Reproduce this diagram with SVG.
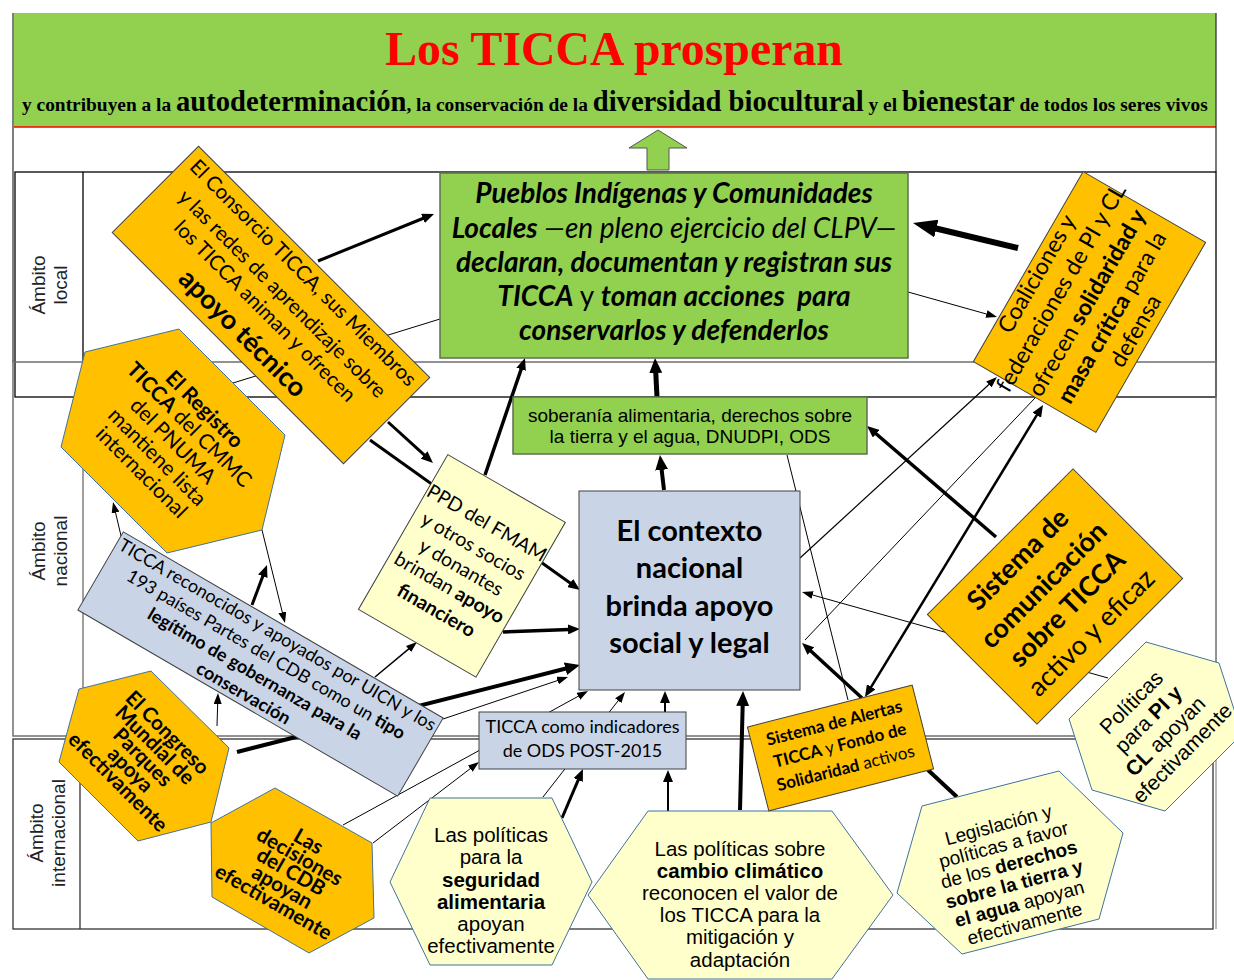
<svg xmlns="http://www.w3.org/2000/svg" width="1234" height="980" viewBox="0 0 1234 980">
<style>
.lato{font-family:Lato,"Open Sans",sans-serif}
.ar{font-family:"Liberation Sans",Arial,sans-serif}
.sf{font-family:"Liberation Serif","Times New Roman",serif}
.b{font-weight:bold}
.org{fill:#FFC000;stroke:#404040;stroke-width:1}
.orgh{fill:#FFC000;stroke:#41719C;stroke-width:1}
.yel{fill:#FFFFCC;stroke:#41719C;stroke-width:1}
.grn{fill:#92D050;stroke:#5f6f52;stroke-width:1.5}
.blu{fill:#C9D5E6;stroke:#404040;stroke-width:1}
</style>
<defs>
<marker id="as" viewBox="0 0 10 10" refX="1" refY="5" markerWidth="11" markerHeight="8" markerUnits="userSpaceOnUse" orient="auto" preserveAspectRatio="none"><path d="M0,0 L10,5 L0,10 z" fill="#000"/></marker>
<marker id="am" viewBox="0 0 10 10" refX="1" refY="5" markerWidth="12" markerHeight="10" markerUnits="userSpaceOnUse" orient="auto" preserveAspectRatio="none"><path d="M0,0 L10,5 L0,10 z" fill="#000"/></marker>
<marker id="am2" viewBox="0 0 10 10" refX="1" refY="5" markerWidth="12" markerHeight="10" markerUnits="userSpaceOnUse" orient="auto-start-reverse" preserveAspectRatio="none"><path d="M0,0 L10,5 L0,10 z" fill="#000"/></marker>
<marker id="al" viewBox="0 0 10 10" refX="1" refY="5" markerWidth="15" markerHeight="13" markerUnits="userSpaceOnUse" orient="auto" preserveAspectRatio="none"><path d="M0,0 L10,5 L0,10 z" fill="#000"/></marker>
<marker id="axl" viewBox="0 0 10 10" refX="1" refY="5" markerWidth="24" markerHeight="18" markerUnits="userSpaceOnUse" orient="auto" preserveAspectRatio="none"><path d="M0,0 L10,5 L0,10 z" fill="#000"/></marker>
</defs>
<rect width="1234" height="980" fill="#fff"/>

<g id="header">
<rect x="13" y="13" width="1203" height="114" fill="#92D050"/>
<line x1="13" y1="127" x2="1216" y2="127" stroke="#FF0000" stroke-width="1.5"/>
<text class="sf b" x="614" y="65" text-anchor="middle" font-size="47.8" fill="#FF0000">Los TICCA prosperan</text>
<text class="sf b" x="22" y="111" font-size="19.4" fill="#000">y contribuyen a la <tspan font-size="28.6">autodeterminación</tspan>, la conservación de la <tspan font-size="28.6">diversidad biocultural</tspan> y el <tspan font-size="28.6">bienestar</tspan> de todos los seres vivos</text>
</g>

<g id="frames" fill="none">
<line x1="13" y1="13" x2="13" y2="362" stroke="#7f7f7f" stroke-width="2"/>
<line x1="1216" y1="13" x2="1216" y2="172" stroke="#333" stroke-width="1.3"/>
<rect x="15" y="172" width="1201" height="225" stroke="#000" stroke-width="1.3"/>
<line x1="83" y1="172" x2="83" y2="397" stroke="#000" stroke-width="1.3"/>
<rect x="13" y="362" width="1203" height="374" stroke="#6f6f6f" stroke-width="1.5"/>
<line x1="83" y1="362" x2="83" y2="736" stroke="#7f7f7f" stroke-width="1.5"/>
<rect x="13" y="739" width="1200" height="190" stroke="#333" stroke-width="1.3"/>
<line x1="80" y1="739" x2="80" y2="929" stroke="#333" stroke-width="1.3"/>
<line x1="1216" y1="736" x2="1216" y2="929" stroke="#777" stroke-width="1"/>
</g>

<g id="labels" class="ar" font-size="19" fill="#222" text-anchor="middle">
<g transform="translate(0,285) rotate(-90)"><text><tspan x="0" y="45">Ámbito</tspan><tspan x="0" y="67">local</tspan></text></g>
<g transform="translate(0,551) rotate(-90)"><text><tspan x="0" y="45">Ámbito</tspan><tspan x="0" y="67">nacional</tspan></text></g>
<g transform="translate(0,833) rotate(-90)"><text><tspan x="0" y="43">Ámbito</tspan><tspan x="0" y="65">internacional</tspan></text></g>
</g>

<g id="green-arrow"><polygon points="629,148 658,130 687,148 669,148 669,170 647,170 647,148" fill="#92D050" stroke="#555" stroke-width="1"/></g>

<g id="connectors" fill="none" stroke="#000">
<line x1="233" y1="383" x2="440" y2="319" stroke-width="1"/>
<line x1="318" y1="261" x2="424" y2="218" stroke-width="3" marker-end="url(#am)"/>
<line x1="388" y1="422" x2="425" y2="455.7" stroke-width="3" marker-end="url(#am)"/>
<line x1="370" y1="440" x2="571.2" y2="583.7" stroke-width="3" marker-end="url(#am)"/>
<line x1="485" y1="475" x2="521.5" y2="368.2" stroke-width="3.5" marker-end="url(#am)"/>
<line x1="503" y1="632" x2="569.2" y2="629.4" stroke-width="3.5" marker-end="url(#am)"/>
<line x1="664" y1="490" x2="661.5" y2="468.4" stroke-width="4" marker-end="url(#al)"/>
<line x1="657" y1="397" x2="655.7" y2="371.5" stroke-width="5" marker-end="url(#al)"/>
<line x1="1018" y1="248" x2="934" y2="228" stroke-width="6" marker-end="url(#axl)"/>
<line x1="908" y1="292" x2="987.5" y2="314.3" stroke-width="1" marker-end="url(#as)"/>
<line x1="996" y1="537" x2="875.2" y2="433" stroke-width="3.5" marker-end="url(#am)"/>
<line x1="800" y1="558" x2="989.7" y2="383.7" stroke-width="1.2" marker-end="url(#as)"/>
<line x1="805" y1="640" x2="1035" y2="398" stroke-width="1"/>
<line x1="1108" y1="678" x2="811.5" y2="594.7" stroke-width="1" marker-end="url(#as)"/>
<line x1="862" y1="698" x2="810" y2="650.3" stroke-width="3.5" marker-end="url(#am)"/>
<line x1="1037.4" y1="414.2" x2="870.6" y2="687.8" stroke-width="2.5" marker-start="url(#am2)" marker-end="url(#am)"/>
<line x1="787" y1="455" x2="848" y2="700" stroke-width="1"/>
<line x1="928" y1="770" x2="957" y2="797" stroke-width="4"/>
<line x1="122" y1="540" x2="115.3" y2="511.6" stroke-width="1" marker-end="url(#as)"/>
<line x1="252" y1="605" x2="263.2" y2="575.1" stroke-width="3" marker-end="url(#am)"/>
<line x1="262" y1="530" x2="282.6" y2="613.4" stroke-width="1" marker-end="url(#as)"/>
<line x1="375" y1="677" x2="409.4" y2="648.3" stroke-width="1.5" marker-end="url(#as)"/>
<line x1="237" y1="752" x2="566.9" y2="668.3" stroke-width="4" marker-end="url(#al)"/>
<line x1="443" y1="719" x2="558.6" y2="680.2" stroke-width="1" marker-end="url(#as)"/>
<line x1="343" y1="825" x2="579.3" y2="695.7" stroke-width="1" marker-end="url(#as)"/>
<line x1="373" y1="843" x2="471.1" y2="768" stroke-width="1" marker-end="url(#as)"/>
<line x1="543" y1="797" x2="618.9" y2="699.8" stroke-width="1" marker-end="url(#as)"/>
<line x1="562" y1="818" x2="578.7" y2="778.9" stroke-width="3" marker-end="url(#am)"/>
<line x1="668" y1="815" x2="668" y2="780.8" stroke-width="2" marker-end="url(#am)"/>
<line x1="740" y1="810" x2="742.7" y2="704.5" stroke-width="4" marker-end="url(#al)"/>
<line x1="665" y1="712" x2="665" y2="701.8" stroke-width="2" marker-end="url(#am)"/>
<line x1="217" y1="726" x2="217.7" y2="702.9" stroke-width="1" marker-end="url(#as)"/>
</g>

<g id="picl">
<rect x="440" y="173" width="468" height="185" class="grn"/>
<g class="lato" font-size="28" text-anchor="middle" font-weight="bold" font-style="italic" fill="#000">
<text x="674" y="203.3">Pueblos Indígenas y Comunidades</text>
<text x="674" y="237.5">Locales<tspan font-weight="normal"> —en pleno ejercicio del CLPV—</tspan></text>
<text x="674" y="271.7">declaran, documentan y registran sus</text>
<text x="674" y="305.9">TICCA<tspan font-weight="normal" font-style="normal"> y </tspan>toman acciones&#160; para</text>
<text x="674" y="340.1">conservarlos y defenderlos</text>
</g>
</g>

<g id="soberania">
<rect x="513" y="397" width="354" height="57" class="grn" stroke-width="1.2"/>
<text class="ar" font-size="19" text-anchor="middle" fill="#000"><tspan x="690" y="422">soberanía alimentaria, derechos sobre</tspan><tspan x="690" y="443">la tierra y el agua, DNUDPI, ODS</tspan></text>
</g>

<g id="contexto">
<rect x="579" y="491" width="221" height="199" class="blu" stroke="#555" stroke-width="1.5"/>
<text class="lato b" font-size="29" text-anchor="middle" fill="#000"><tspan x="689.5" y="540.5">El contexto</tspan><tspan x="689.5" y="578">nacional</tspan><tspan x="689.5" y="615.6">brinda apoyo</tspan><tspan x="689.5" y="653.2">social y legal</tspan></text>
</g>

<g id="consorcio" transform="translate(271,305) rotate(45)">
<rect x="-163.5" y="-61" width="327" height="122" class="org"/>
<text class="lato" font-size="20.5" text-anchor="middle" fill="#000"><tspan x="0" y="-38.5">El Consorcio TICCA, sus Miembros</tspan><tspan x="0" y="-9">y las redes de aprendizaje sobre</tspan><tspan x="0" y="15.5">los TICCA animan y ofrecen</tspan><tspan x="0" y="49" font-size="27" font-weight="bold">apoyo técnico</tspan></text>
</g>

<g id="registro">
<polygon points="85,352 179,329 285,435 262,530 167,553 61,447" class="orgh"/>
<g transform="translate(173,441) rotate(45)"><text class="lato" font-size="21" text-anchor="middle" fill="#000"><tspan x="0" y="-37.5" font-weight="bold">El Registro</tspan><tspan x="0" y="-16"><tspan font-weight="bold">TICCA</tspan> del CMMC</tspan><tspan x="0" y="7">del PNUMA</tspan><tspan x="0" y="29.5">mantiene lista</tspan><tspan x="0" y="51.5">internacional</tspan></text></g>
</g>

<g id="ppd" transform="translate(462,566) rotate(30)">
<rect x="-68" y="-89.4" width="135.7" height="178.7" fill="#FFFFCC" stroke="#404040" stroke-width="1"/>
<text class="lato" font-size="19.5" text-anchor="middle" fill="#000"><tspan x="0" y="-43">PPD del FMAM</tspan><tspan x="0" y="-16">y otros socios</tspan><tspan x="0" y="8.4">y donantes</tspan><tspan x="0" y="31.7">brindan <tspan font-weight="bold">apoyo</tspan></tspan><tspan x="0" y="58" font-weight="bold">financiero</tspan></text>
</g>

<g id="reconocidos" transform="translate(260.5,664) rotate(30.2)">
<rect x="-185" y="-45.2" width="370" height="90.4" class="blu"/>
<text class="lato" font-size="18" text-anchor="middle" fill="#000"><tspan x="0" y="-27.5">TICCA reconocidos y apoyados por UICN y los</tspan><tspan x="0" y="-5">193 países Partes del CDB como un <tspan font-weight="bold">tipo</tspan></tspan><tspan x="0" y="17.5" font-weight="bold">legítimo de gobernanza para la</tspan><tspan x="0" y="40" font-weight="bold">conservación</tspan></text>
</g>

<g id="congreso">
<polygon points="79,689 151,671 229,748 211,822 138,841 59,762" class="orgh"/>
<g transform="translate(144.5,755.5) rotate(45)"><text class="lato b" font-size="20.5" text-anchor="middle" fill="#000"><tspan x="0" y="-25.5">El Congreso</tspan><tspan x="0" y="-8">Mundial de</tspan><tspan x="0" y="9.5">Parques</tspan><tspan x="0" y="27">apoya</tspan><tspan x="0" y="44.5">efectivamente</tspan></text></g>
</g>

<g id="decisiones">
<polygon points="211,823 275,788 372,843 374,918 309,953 212,897" class="orgh"/>
<g transform="translate(292,870) rotate(30)"><text class="lato b" font-size="20.5" text-anchor="middle" fill="#000"><tspan x="0" y="-26">Las</tspan><tspan x="0" y="-8.5">decisiones</tspan><tspan x="0" y="9">del CDB</tspan><tspan x="0" y="26.5">apoyan</tspan><tspan x="0" y="44">efectivamente</tspan></text></g>
</g>

<g id="indicadores">
<rect x="479" y="712" width="207" height="57" class="blu"/>
<text class="lato" font-size="18" text-anchor="middle" fill="#000"><tspan x="582.5" y="733.3">TICCA como indicadores</tspan><tspan x="582.5" y="756.7">de ODS POST-2015</tspan></text>
</g>

<g id="seguridad">
<polygon points="430,798 552,798 592,882 552,965 430,965 390,882" class="yel"/>
<text class="ar" font-size="20.5" text-anchor="middle" fill="#000"><tspan x="491" y="842">Las políticas</tspan><tspan x="491" y="864">para la</tspan><tspan x="491" y="886.5" font-weight="bold">seguridad</tspan><tspan x="491" y="908.5" font-weight="bold">alimentaria</tspan><tspan x="491" y="931">apoyan</tspan><tspan x="491" y="953">efectivamente</tspan></text>
</g>

<g id="clima">
<polygon points="648,811 832,811 893,895 832,979 648,979 588,895" class="yel"/>
<text class="ar" font-size="20.5" text-anchor="middle" fill="#000"><tspan x="740" y="855.5">Las políticas sobre</tspan><tspan x="740" y="877.7" font-weight="bold">cambio climático</tspan><tspan x="740" y="900">reconocen el valor de</tspan><tspan x="740" y="922">los TICCA para la</tspan><tspan x="740" y="944.3">mitigación y</tspan><tspan x="740" y="966.5">adaptación</tspan></text>
</g>

<g id="alertas" transform="translate(840.5,748) rotate(-14.3)">
<rect x="-85" y="-43.3" width="170" height="86.6" class="org"/>
<text class="lato" font-size="17" text-anchor="middle" fill="#000"><tspan x="0" y="-20" font-weight="bold">Sistema de Alertas</tspan><tspan x="0" y="3"><tspan font-weight="bold">TICCA</tspan> y <tspan font-weight="bold">Fondo de</tspan></tspan><tspan x="0" y="26.5"><tspan font-weight="bold">Solidaridad</tspan> activos</tspan></text>
</g>

<g id="coaliciones" transform="translate(1089.5,302) rotate(-60)">
<rect x="-109.75" y="-70.75" width="219.5" height="141.5" class="org"/>
<text class="lato" font-size="23" text-anchor="middle" fill="#000"><tspan x="-2" y="-52">Coaliciones y</tspan><tspan x="-2" y="-24">federaciones de PI y CL</tspan><tspan x="-2" y="6">ofrecen <tspan font-weight="bold">solidaridad y</tspan></tspan><tspan x="-2" y="35"><tspan font-weight="bold">masa crítica</tspan> para la</tspan><tspan x="-2" y="62">defensa</tspan></text>
</g>

<g id="comunicacion" transform="translate(1055,596.5) rotate(-45)">
<rect x="-103" y="-77.5" width="206" height="155" class="org"/>
<text class="lato" font-size="27" text-anchor="middle" fill="#000"><tspan x="0" y="-43.3" font-weight="bold">Sistema de</tspan><tspan x="0" y="-7" font-weight="bold">comunicación</tspan><tspan x="0" y="26.3" font-weight="bold">sobre TICCA</tspan><tspan x="0" y="60.3">activo y eficaz</tspan></text>
</g>

<g id="legislacion">
<polygon points="922,806 1059,771 1123,833 1099,919 962,954 897,893" class="yel"/>
<g transform="translate(1010,862.7) rotate(-15)"><text class="ar" font-size="19" text-anchor="middle" fill="#000"><tspan x="-1.5" y="-33">Legislación y</tspan><tspan x="-1.5" y="-12.6">políticas a favor</tspan><tspan x="-1.5" y="7.8">de los <tspan font-weight="bold">derechos</tspan></tspan><tspan x="-1.5" y="28.2" font-weight="bold">sobre la tierra y</tspan><tspan x="-1.5" y="48.6"><tspan font-weight="bold">el agua</tspan> apoyan</tspan><tspan x="-1.5" y="69">efectivamente</tspan></text></g>
</g>

<g id="politicas-pi">
<polygon points="1069,719 1146,642 1219,663 1242,734 1165,811 1092,790" class="yel"/>
<g transform="translate(1155.5,726.5) rotate(-45)"><text class="ar" font-size="21" text-anchor="middle" fill="#000"><tspan x="0" y="-27">Políticas</tspan><tspan x="0" y="-3">para <tspan font-weight="bold">PI y</tspan></tspan><tspan x="0" y="21"><tspan font-weight="bold">CL</tspan> apoyan</tspan><tspan x="0" y="45">efectivamente</tspan></text></g>
</g>
</svg>
